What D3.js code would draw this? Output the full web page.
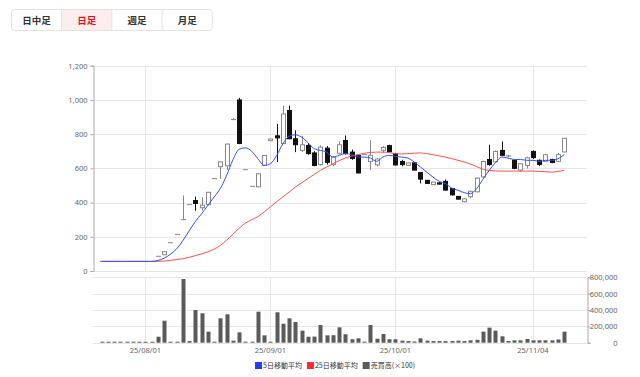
<!DOCTYPE html>
<html>
<head>
<meta charset="utf-8">
<script src="https://cdn.jsdelivr.net/npm/d3@7"></script>
<style>
  body { margin: 0; background: #fff; }
  svg { display: block; font-family: "Noto Sans CJK JP", "Noto Sans", sans-serif; }
</style>
</head>
<body>
<svg id="chart"></svg>
<script>
// trading days shown on the chart
const dates = [
  "25/07/23","25/07/24","25/07/25","25/07/28","25/07/29","25/07/30","25/07/31",
  "25/08/01","25/08/04","25/08/05","25/08/06","25/08/07","25/08/08","25/08/12",
  "25/08/13","25/08/14","25/08/15","25/08/18","25/08/19","25/08/20","25/08/21",
  "25/08/22","25/08/25","25/08/26","25/08/27","25/08/28","25/08/29","25/09/01",
  "25/09/02","25/09/03","25/09/04","25/09/05","25/09/08","25/09/09","25/09/10",
  "25/09/11","25/09/12","25/09/16","25/09/17","25/09/18","25/09/19","25/09/22",
  "25/09/24","25/09/25","25/09/26","25/09/29","25/09/30","25/10/01","25/10/02",
  "25/10/03","25/10/06","25/10/07","25/10/08","25/10/09","25/10/10","25/10/14",
  "25/10/15","25/10/16","25/10/17","25/10/20","25/10/21","25/10/22","25/10/23",
  "25/10/24","25/10/27","25/10/28","25/10/29","25/10/30","25/10/31","25/11/04",
  "25/11/05","25/11/06","25/11/07","25/11/10","25/11/11"
];

const open = [56,56,56,56,56,56,56,56,56,86,95,165,214,300,388,412,370,388,540,610,
  615,885,1000,592,495,492,618,762,790,745,938,773,705,734,690,622,718,622,688,763,
  695,676,680,641,620,706,733,686,640,618,632,575,530,506,515,524,482,436,405,434,
  463,550,652,638,705,672,647,590,617,699,647,641,652,641,696];
const high = [56,56,56,56,56,56,56,56,56,86,113,165,214,441,388,435,432,462,540,640,
  744,895,1012,592,495,569,676,773,860,967,967,822,790,748,700,735,730,672,758,792,
  710,680,680,765,660,730,738,690,650,636,636,578,532,522,518,535,485,438,424,470,
  548,645,738,705,757,680,650,630,668,705,652,685,656,690,778];
const low = [56,56,56,56,56,56,56,56,56,86,95,165,214,300,388,352,355,383,540,538,
  590,885,743,592,495,491,617,761,637,744,770,695,695,680,612,615,622,612,680,680,
  650,570,680,590,612,690,695,617,612,615,588,512,510,504,505,470,440,418,402,425,
  460,540,615,635,672,665,595,580,600,655,613,638,630,638,694];
const close = [56,56,56,56,56,56,56,56,56,86,113,165,214,300,388,395,385,460,540,638,
  742,885,745,592,495,568,675,772,778,918,773,738,738,686,617,724,635,666,738,688,
  658,573,680,676,655,722,697,620,622,632,590,537,512,520,508,473,445,420,422,466,
  543,640,622,699,676,673,600,627,662,663,623,680,634,680,776];

const volume = [0,0,0,0,0,0,0,0,0,73000,269000,0,0,779000,20000,400000,360000,135000,0,298000,
  347000,25000,127000,0,0,379000,90000,0,372000,232000,298000,253000,147000,73000,75000,216000,90000,92000,188000,103000,
  42000,54000,0,216000,49000,106000,42000,42000,25000,20000,15000,54000,25000,20000,20000,20000,20000,25000,20000,29000,
  35000,135000,184000,147000,78000,20000,29000,29000,45000,29000,29000,29000,29000,39000,135000];

const ma5 = [56,56,56,56,56,56,56,56,56,62,75,98,130,178,235,290,335,385,433,483,
  560,650,712,720,700,656,617,627,676,744,788,796,782,750,715,705,695,666,676,686,
  680,666,666,660,641,666,676,670,666,660,637,608,578,549,524,511,485,472,458,452,
  482,536,588,633,666,660,652,652,647,647,641,647,647,656,680];
const ma25 = [56,56,56,56,56,56,56,56,56,56,58,62,67,72,80,90,100,112,128,150,
  180,215,250,280,300,318,345,375,405,433,462,491,516,540,565,588,608,627,645,660,
  672,680,688,693,695,695,692,686,684,686,689,690,686,680,673,666,657,647,637,625,
  610,595,588,585,584,584,584,584,584,584,582,580,578,582,588];

const tickDates = ["25/08/01","25/09/01","25/10/01","25/11/04"];
const priceTicks = [0,200,400,600,800,1000,1200];
const volTicks = [0,200000,400000,600000,800000];
const tabs = ["日中足","日足","週足","月足"];
const legendItems = [
  { label: "5日移動平均", color: "#1f3cff" },
  { label: "25日移動平均", color: "#ff2a2a" },
  { label: "売買高(×100)", color: "#5a5a5a" }
];

const width = 640;
const height = 377;
const svg = d3.select("#chart").attr("width", width).attr("height", height);

// ---- tabs
const tabW = 50.2;
const tabG = svg.append("g").attr("transform", "translate(11.5,9.5)");
tabG.append("rect").attr("x", tabW).attr("width", tabW).attr("height", 21).attr("fill", "#fdeeee");
tabG.append("rect")
  .attr("width", tabW * 4).attr("height", 21).attr("rx", 3)
  .attr("fill", "none").attr("stroke", "#e3e3e3");
tabG.selectAll(".sep").data([1, 2, 3]).join("line")
  .attr("x1", (d) => d * tabW).attr("x2", (d) => d * tabW)
  .attr("y1", 0).attr("y2", 21).attr("stroke", "#e3e3e3");
tabG.selectAll(".tab").data(tabs).join("text")
  .attr("x", (d, i) => i * tabW + tabW / 2).attr("y", 14.3)
  .attr("text-anchor", "middle").attr("font-size", 9.5).attr("font-weight", "bold")
  .attr("fill", (d, i) => (i === 1 ? "#e8101e" : "#333"))
  .text((d) => d);

// ---- scales
const x = d3.scaleLinear().domain([-1.47, 77.57]).range([92.5, 586.5]);
const y = d3.scaleLinear().domain([0, 1200]).range([271, 65.7]);
const yv = d3.scaleLinear().domain([0, 800000]).range([342.7, 277.3]);
const idx = d3.range(dates.length);

const grid = svg.append("g").attr("stroke", "#e6e6e6").attr("stroke-width", 1);
grid.selectAll(".hg").data(priceTicks).join("line")
  .attr("x1", x.range()[0]).attr("x2", x.range()[1])
  .attr("y1", (d) => Math.round(y(d)) + 0.5).attr("y2", (d) => Math.round(y(d)) + 0.5);
grid.selectAll(".hv").data(volTicks).join("line")
  .attr("x1", x.range()[0]).attr("x2", x.range()[1])
  .attr("y1", (d) => Math.round(yv(d)) + 0.5).attr("y2", (d) => Math.round(yv(d)) + 0.5);
const tickIdx = tickDates.map((d) => dates.indexOf(d));
grid.selectAll(".vg").data(tickIdx).join("line")
  .attr("x1", (d) => Math.round(x(d)) + 0.5).attr("x2", (d) => Math.round(x(d)) + 0.5)
  .attr("y1", y(1200)).attr("y2", y(0));
grid.selectAll(".vg2").data(tickIdx).join("line")
  .attr("x1", (d) => Math.round(x(d)) + 0.5).attr("x2", (d) => Math.round(x(d)) + 0.5)
  .attr("y1", yv(800000)).attr("y2", yv(0));

// ---- price axis
const yAxis = svg.append("g")
  .attr("transform", `translate(${Math.round(x.range()[0]) + 0.5},0)`)
  .call(d3.axisLeft(y).tickValues(priceTicks).tickFormat(d3.format(",")).tickSize(3).tickPadding(3));
yAxis.select(".domain").attr("stroke", "#aaa");
yAxis.selectAll(".tick line").attr("stroke", "#aaa");
yAxis.selectAll("text").attr("fill", "#666").attr("font-size", 7.5)
  .attr("font-family", "'Noto Sans', sans-serif");

// ---- volume axis (right)
const vAxis = svg.append("g")
  .attr("transform", `translate(${Math.round(x.range()[1]) + 0.5},0)`)
  .call(d3.axisRight(yv).tickValues(volTicks).tickFormat(d3.format(",")).tickSize(3));
vAxis.select(".domain").attr("stroke", "#aaa");
vAxis.selectAll(".tick line").attr("stroke", "#aaa");
vAxis.selectAll("text").attr("fill", "#666").attr("font-size", 7.5)
  .attr("text-anchor", "end").attr("x", 30)
  .attr("font-family", "'Noto Sans', sans-serif");

// ---- x labels
svg.selectAll(".xl").data(tickIdx).join("text")
  .attr("x", (d) => x(d)).attr("y", 352.5)
  .attr("text-anchor", "middle").attr("font-size", 7.5).attr("fill", "#666")
  .attr("font-family", "'Noto Sans', sans-serif")
  .text((d) => dates[d]);

// ---- candles
const bodyW = 4;
const candles = svg.append("g").selectAll("g").data(idx).join("g");
candles.append("line")
  .attr("x1", (i) => Math.round(x(i)) + 0.5).attr("x2", (i) => Math.round(x(i)) + 0.5)
  .attr("y1", (i) => y(high[i])).attr("y2", (i) => y(low[i]))
  .attr("stroke", (i) => (close[i] < open[i] ? "#111" : "#888"));
candles.append("rect")
  .attr("x", (i) => Math.round(x(i)) + 0.5 - bodyW / 2)
  .attr("y", (i) => y(Math.max(open[i], close[i])))
  .attr("width", bodyW)
  .attr("height", (i) => Math.max(0.01, Math.abs(y(open[i]) - y(close[i]))))
  .attr("fill", (i) => (close[i] < open[i] ? "#111" : "#fff"))
  .attr("stroke", (i) => (close[i] < open[i] ? "#111" : "#888"))
  .attr("stroke-width", 1);

// ---- moving averages
const line = (vals) => d3.line()
  .x((i) => x(i))
  .y((i) => y(vals[i]))
  .curve(d3.curveMonotoneX)(idx);
svg.append("path").attr("d", line(ma25)).attr("fill", "none")
  .attr("stroke", "#ff4f4f").attr("stroke-width", 1);
svg.append("path").attr("d", line(ma5)).attr("fill", "none")
  .attr("stroke", "#3050ff").attr("stroke-width", 1);

// ---- volume bars
svg.append("g").selectAll("rect").data(idx).join("rect")
  .attr("x", (i) => Math.round(x(i)) + 0.5 - bodyW / 2)
  .attr("width", bodyW)
  .attr("y", (i) => Math.min(yv(volume[i]), yv(0) - 1))
  .attr("height", (i) => Math.max(1, yv(0) - yv(volume[i])))
  .attr("fill", "#5a5a5a");

// ---- legend
let lx = 255;
const legend = svg.append("g");
legendItems.forEach((d) => {
  legend.append("rect").attr("x", lx).attr("y", 362).attr("width", 7).attr("height", 7).attr("fill", d.color);
  const t = legend.append("text").attr("x", lx + 8).attr("y", 368.3)
    .attr("font-size", 7).attr("fill", "#333").text(d.label);
  lx += 8 + t.node().getComputedTextLength() + 5;
});
</script>
</body>
</html>
